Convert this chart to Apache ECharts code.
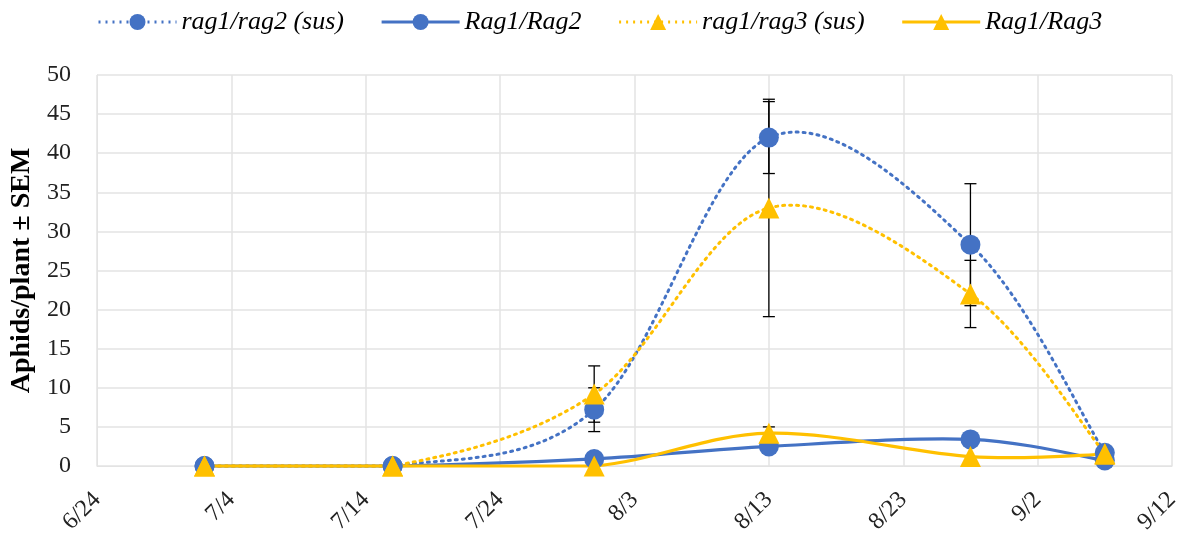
<!DOCTYPE html>
<html><head><meta charset="utf-8">
<script src="https://cdn.jsdelivr.net/npm/echarts@6/dist/echarts.min.js"></script>
<style>html,body{margin:0;padding:0;background:#fff}#c{width:1184px;height:533px}</style>
</head><body><div id="c"></div>
<script>
// ---- data ----
const startDate = '6/24';
const xTicks = ['6/24','7/4','7/14','7/24','8/3','8/13','8/23','9/2','9/12'];
const dates = ['7/2','7/16','7/31','8/13','8/28','9/7'];
const susRag2 = [0, 0, 7.2, 42.0, 28.3, 1.7];
const susRag2Err = [0, 0, 2.8, 4.6, 7.8, 0];
const rag2 = [0, 0, 0.9, 2.5, 3.4, 0.7];
const susRag3 = [0, 0, 9.2, 33.0, 22.0, 1.6];
const susRag3Err = [0, 0, 3.6, 13.9, 4.3, 0];
const rag3 = [0, 0, 0, 4.2, 1.2, 1.5];
const rag3Err = [0, 0, 0, 0.8, 0, 0];
const yTicks = [0,5,10,15,20,25,30,35,40,45,50];

function dayOf(s){
  const [m,d] = s.split('/').map(Number);
  const [m0,d0] = startDate.split('/').map(Number);
  return (Date.UTC(2000,m-1,d) - Date.UTC(2000,m0-1,d0)) / 86400000;
}
const xs = dates.map(dayOf);
const pairs = arr => xs.map((x,i)=>[x, arr[i]]);
const errData = (vals, errs) => xs.map((x,i)=>[x, vals[i]-errs[i], vals[i]+errs[i]]).filter((d,i)=>errs[i]>0);

const BLUE = '#4472C4', GOLD = '#FFC000';
const FONT = 'Liberation Serif';

function errSeries(data){
  return {
    type:'custom', silent:true, z:3,
    data: data,
    encode:{x:0, y:[1,2]},
    renderItem: function(params, api){
      const lo = api.coord([api.value(0), api.value(1)]);
      const hi = api.coord([api.value(0), api.value(2)]);
      const w = 6;
      const st = {stroke:'#000', lineWidth:1.3};
      return {type:'group', children:[
        {type:'line', shape:{x1:lo[0],y1:lo[1],x2:hi[0],y2:hi[1]}, style:st},
        {type:'line', shape:{x1:lo[0]-w,y1:lo[1],x2:lo[0]+w,y2:lo[1]}, style:st},
        {type:'line', shape:{x1:hi[0]-w,y1:hi[1],x2:hi[0]+w,y2:hi[1]}, style:st}
      ]};
    }
  };
}

// Excel-like smoothed curve (Catmull-Rom bezier in pixel space)
function curveSeries(vals, color, dashed, z){
  const data = pairs(vals);
  return {
    type:'custom', silent:true, z:z,
    data: data, encode:{x:0, y:1},
    renderItem: function(params, api){
      const i = params.dataIndex;
      const n = data.length;
      if (i >= n-1) return null;
      const P = k => api.coord(data[Math.max(0, Math.min(n-1, k))]);
      const p0 = P(i-1), p1 = P(i), p2 = P(i+1), p3 = P(i+2);
      const t = 1/6;
      let c1y = p1[1] + (p2[1]-p0[1])*t, c2y = p2[1] - (p3[1]-p1[1])*t;
      if (Math.abs(p1[1]-p2[1]) < 0.5) { c1y = p1[1]; c2y = p2[1]; }
      return {
        type:'bezierCurve',
        shape:{
          x1:p1[0], y1:p1[1], x2:p2[0], y2:p2[1],
          cpx1:p1[0] + (p2[0]-p0[0])*t, cpy1:c1y,
          cpx2:p2[0] - (p3[0]-p1[0])*t, cpy2:c2y
        },
        style:{stroke:color, lineWidth: dashed ? 3 : 3.2, fill:null,
               lineDash: dashed ? [2,5] : null, lineCap: dashed ? 'round' : 'butt'}
      };
    }
  };
}

function markerSeries(name, vals, color, symbol, size, z){
  return {name:name, type:'line', data:pairs(vals), z:z,
    symbol:symbol, symbolSize:size, itemStyle:{color:color},
    lineStyle:{opacity:0}};
}

const chart = echarts.init(document.getElementById('c'));
chart.setOption({
  animation:false,
  legend:{
    top:4, left:92,
    itemWidth:78, itemHeight:20, itemGap:36,
    textStyle:{fontFamily:FONT, fontStyle:'italic', fontSize:26, color:'#000'},
    data:[
      {name:'rag1/rag2 (sus)', lineStyle:{opacity:1, color:BLUE, width:3, type:[2,5]}},
      {name:'Rag1/Rag2', lineStyle:{opacity:1, color:BLUE, width:3.2, type:'solid'}},
      {name:'rag1/rag3 (sus)', lineStyle:{opacity:1, color:GOLD, width:3, type:[2,5]}},
      {name:'Rag1/Rag3', lineStyle:{opacity:1, color:GOLD, width:3.2, type:'solid'}}
    ]
  },
  grid:{left:97, right:12, top:75, bottom:67, outerBoundsMode:'none', containLabel:false},
  xAxis:{
    type:'value', min:0, max:80, interval:10,
    axisLine:{show:true, lineStyle:{color:'#e3e3e3'}},
    axisTick:{show:false},
    splitLine:{show:true, lineStyle:{color:'#e3e3e3', width:1.5}},
    axisLabel:{rotate:45, margin:30, fontFamily:FONT, fontSize:24, color:'#222',
      formatter: v => xTicks[Math.round(v/10)] || ''}
  },
  yAxis:{
    type:'value', min:0, max:50, interval:5,
    name:'Aphids/plant ± SEM', nameLocation:'middle', nameGap:60,
    nameTextStyle:{fontFamily:FONT, fontWeight:'bold', fontSize:28, color:'#000'},
    axisLine:{show:true, lineStyle:{color:'#e3e3e3'}},
    axisTick:{show:false},
    splitLine:{show:true, lineStyle:{color:'#e3e3e3', width:1.5}},
    axisLabel:{margin:26, fontFamily:FONT, fontSize:24, color:'#222',
      formatter: v => yTicks.includes(v) ? String(v) : ''}
  },
  series:[
    curveSeries(susRag2, BLUE, true, 4),
    curveSeries(rag2, BLUE, false, 4),
    curveSeries(susRag3, GOLD, true, 4),
    curveSeries(rag3, GOLD, false, 4),
    errSeries(errData(susRag2, susRag2Err)),
    errSeries(errData(susRag3, susRag3Err)),
    errSeries(errData(rag3, rag3Err)),
    markerSeries('rag1/rag2 (sus)', susRag2, BLUE, 'circle', 20, 5),
    markerSeries('Rag1/Rag2', rag2, BLUE, 'circle', 20, 6),
    markerSeries('rag1/rag3 (sus)', susRag3, GOLD, 'triangle', 21, 7),
    markerSeries('Rag1/Rag3', rag3, GOLD, 'triangle', 21, 8)
  ]
});
</script></body></html>
